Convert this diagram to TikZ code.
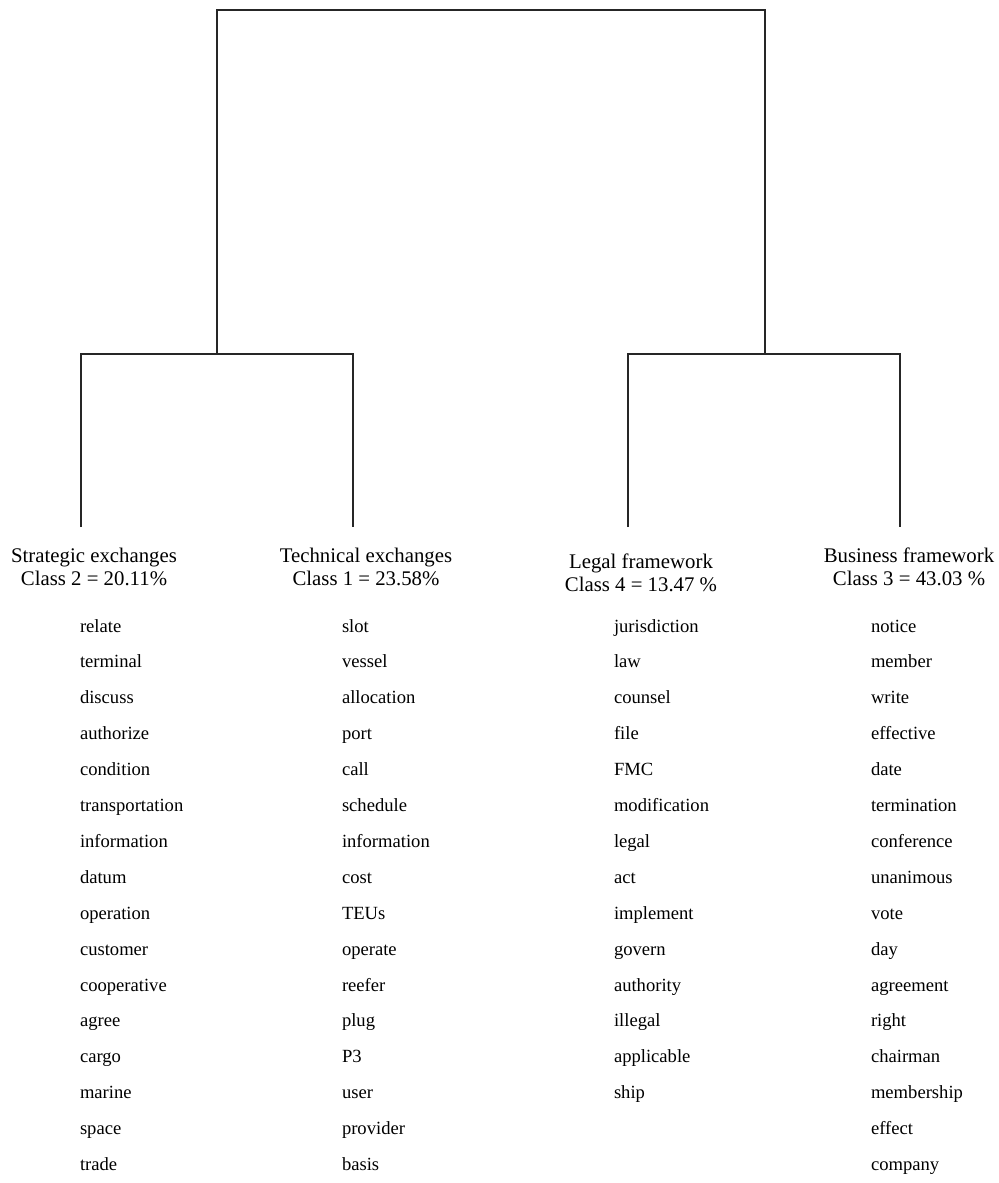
\documentclass[tikz,border=0pt]{standalone}
\usepackage{fontspec}
\setmainfont{Liberation Serif}
\usetikzlibrary{positioning,calc}

\begin{document}
\begin{tikzpicture}[x=0.5pt,y=-0.5pt]

        \tikzstyle{every node}=[inner sep=0pt,outer sep=0pt]
        \tikzstyle{branch}=[line width=1.1pt,draw=black!85]
        \tikzstyle{head}=[align=center,font=\fontsize{10.4}{11.3}\selectfont]
        \tikzstyle{word}=[anchor=base west,font=\fontsize{9.3}{11}\selectfont]

        \useasboundingbox (0,0) rectangle (998,1183);

        % class headers
        \node[head] (S) at (94,567) {Strategic exchanges\\Class 2 = 20.11\%};
        \node[head] (T) at (366,567) {Technical exchanges\\Class 1 = 23.58\%};
        \node[head] (L) at (641,573) {Legal framework\\Class 4 = 13.47 \%};
        \node[head] (B) at (909,567) {Business framework\\Class 3 = 43.03 \%};

        % joints of the tree
        \coordinate (top) at (491,10);
        \coordinate (ST) at (217,354);
        \coordinate (LB) at (765,354);
        \coordinate (s) at (81,527);
        \coordinate (t) at (353,527);
        \coordinate (l) at (628,527);
        \coordinate (b) at (900,527);

        \draw[branch] (ST) -- (ST |- top) -- (LB |- top) -- (LB);
        \draw[branch] (s) |- (ST) -| (t);
        \draw[branch] (l) |- (LB) -| (b);

        % word lists
        \foreach \w [count=\i from 0] in {relate,terminal,discuss,authorize,condition,transportation,information,datum,operation,customer,cooperative,agree,cargo,marine,space,trade}
          \node[word] (s\i) at (80,632+35.9*\i) {\w};
        \foreach \w [count=\i from 0] in {slot,vessel,allocation,port,call,schedule,information,cost,TEUs,operate,reefer,plug,P3,user,provider,basis}
          \node[word] (t\i) at (342,632+35.9*\i) {\w};
        \foreach \w [count=\i from 0] in {jurisdiction,law,counsel,file,FMC,modification,legal,act,implement,govern,authority,illegal,applicable,ship}
          \node[word] (l\i) at (614,632+35.9*\i) {\w};
        \foreach \w [count=\i from 0] in {notice,member,write,effective,date,termination,conference,unanimous,vote,day,agreement,right,chairman,membership,effect,company}
          \node[word] (b\i) at (871,632+35.9*\i) {\w};

      \end{tikzpicture}
\end{document}
